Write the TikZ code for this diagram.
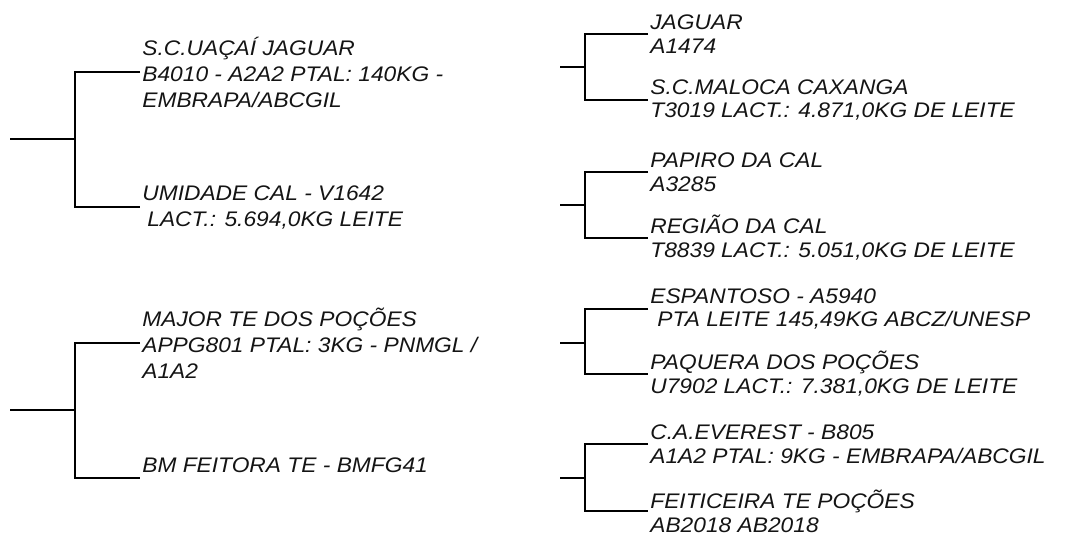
\documentclass[tikz,border=0pt]{standalone}
\usepackage{fontspec}
\setmainfont{Liberation Sans}[FakeStretch=1.08]
\usepackage{xcolor}
\definecolor{inkgrey}{RGB}{20,20,20}

\begin{document}
\begin{tikzpicture}[
    x=0.02cm, y=-0.02cm,
    branch/.style={draw=black, line width=0.04cm},
    thinbranch/.style={draw=black, line width=0.025cm},
    animal/.style={font=\itshape\fontsize{12}{14.8}\selectfont, text=inkgrey,
        align=left, anchor=west, inner xsep=0.04cm, inner ysep=0pt},
    grand/.style={animal, font=\itshape\fontsize{12}{13.6}\selectfont}
]
\useasboundingbox (0,0) rectangle (1075,536);

% parents
\node[animal] (sireA) at (140,72) {S.C.UAÇAÍ JAGUAR\\B4010 - A2A2 PTAL: 140KG -\\EMBRAPA/ABCGIL};
\node[animal] (damA) at (140,207) {UMIDADE CAL - V1642\\\hspace*{0.1cm}LACT.: 5.694,0KG LEITE};
\node[animal] (sireB) at (140,343) {MAJOR TE DOS POÇÕES\\APPG801 PTAL: 3KG - PNMGL /\\A1A2};
\node[animal, anchor=south west, inner ysep=0.1cm] (damB) at (140,478) {BM FEITORA TE - BMFG41};

% grandparents
\node[grand] (ssA) at (648,34) {JAGUAR\\A1474};
\node[grand] (sdA) at (648,100) {S.C.MALOCA CAXANGA\\T3019 LACT.: 4.871,0KG DE LEITE};
\node[grand] (dsA) at (648,172) {PAPIRO DA CAL\\A3285};
\node[grand] (ddA) at (648,238) {REGIÃO DA CAL\\T8839 LACT.: 5.051,0KG DE LEITE};
\node[grand] (ssB) at (648,309) {ESPANTOSO - A5940\\\hspace*{0.14cm}PTA LEITE 145,49KG ABCZ/UNESP};
\node[grand] (sdB) at (648,374) {PAQUERA DOS POÇÕES\\U7902 LACT.: 7.381,0KG DE LEITE};
\node[grand] (dsB) at (648,444) {C.A.EVEREST - B805\\A1A2 PTAL: 9KG - EMBRAPA/ABCGIL};
\node[grand] (ddB) at (648,511) {FEITICEIRA TE POÇÕES\\AB2018 AB2018};

\coordinate (rA) at (10,139);  \coordinate (jA) at (75,139);
\coordinate (rB) at (10,410);  \coordinate (jB) at (75,410);
\coordinate (rsA) at (560,67);  \coordinate (jsA) at (585,67);
\coordinate (rdA) at (560,205); \coordinate (jdA) at (585,205);
\coordinate (rsB) at (560,343); \coordinate (jsB) at (585,343);
\coordinate (rdB) at (560,478); \coordinate (jdB) at (585,478);

\foreach \r/\j in {rA/jA, rB/jB, rsA/jsA, rdA/jdA, rsB/jsB, rdB/jdB}
    \draw[branch] (\r) -- (\j);

\draw[branch] (sireA.west) -| (jA) |- (damA.west);
\draw[branch] (sireB.west) -| (jB) |- (damB.south west);
\draw[branch] (ssA.west) -| (jsA) |- (sdA.west);
\draw[branch] (dsA.west) -| (jdA) |- (ddA.west);
\draw[thinbranch] (ssB.west) -| (jsB);
\draw[branch] (jsB) |- (sdB.west);
\draw[thinbranch] (dsB.west) -| (jdB);
\draw[branch] (jdB) |- (ddB.west);
\end{tikzpicture}
\end{document}
